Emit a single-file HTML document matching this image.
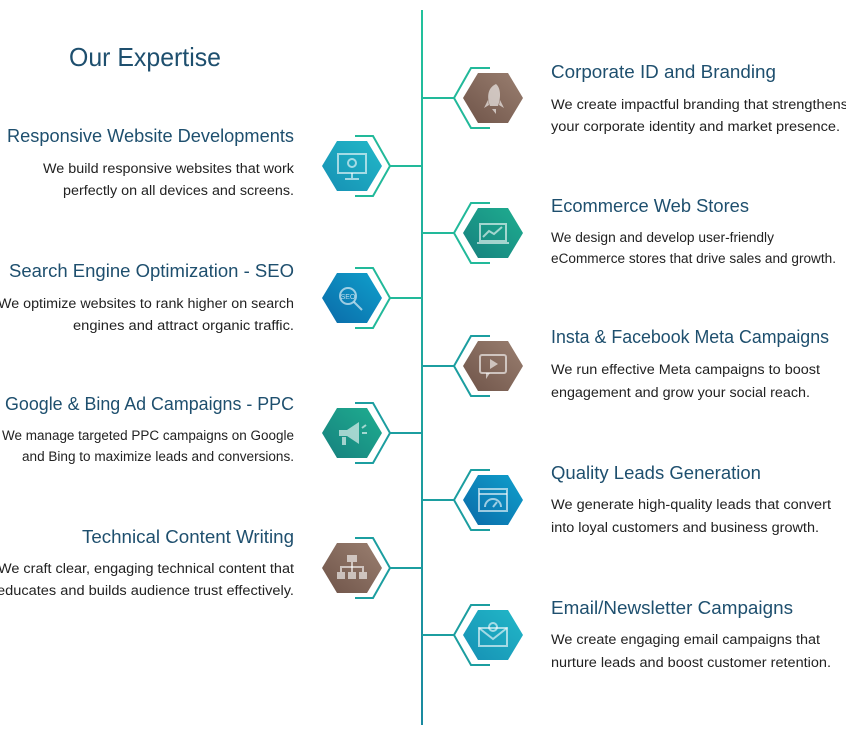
<!DOCTYPE html>
<html><head><meta charset="utf-8"><style>
html,body{margin:0;padding:0;background:#fff;width:846px;height:739px;overflow:hidden}
svg{display:block}
.t{font-family:"Liberation Sans",sans-serif;font-size:18px;fill:#1e4f6e}
.d{font-family:"Liberation Sans",sans-serif;font-size:13.5px;fill:#222}
.ic{fill:none;stroke:#fff;stroke-opacity:.6;stroke-width:2}
.if{fill:#fff;fill-opacity:.6}
</style></head><body>
<svg width="846" height="739" viewBox="0 0 846 739" xmlns="http://www.w3.org/2000/svg">
<defs>
<linearGradient id="vl" gradientUnits="userSpaceOnUse" x1="0" y1="10" x2="0" y2="725"><stop offset="0" stop-color="#22c29c"/><stop offset="1" stop-color="#1a8aa0"/></linearGradient>
<linearGradient id="br" x1="0" y1="1" x2="1" y2="0"><stop offset="0" stop-color="#6f5449"/><stop offset="1" stop-color="#9a7f70"/></linearGradient>
<linearGradient id="tb" x1="0" y1="1" x2="1" y2="0"><stop offset="0" stop-color="#1690b4"/><stop offset="1" stop-color="#22b8c8"/></linearGradient>
<linearGradient id="bl" x1="0" y1="1" x2="1" y2="0"><stop offset="0" stop-color="#0a6aa8"/><stop offset="1" stop-color="#10a0cc"/></linearGradient>
<linearGradient id="gr" x1="0" y1="1" x2="1" y2="0"><stop offset="0" stop-color="#16807e"/><stop offset="1" stop-color="#1fae90"/></linearGradient>
</defs>
<text x="69" y="66" font-family="Liberation Sans,sans-serif" font-size="26" fill="#1e4f6e" textLength="152" lengthAdjust="spacingAndGlyphs">Our Expertise</text>
<rect x="421" y="10" width="2" height="715" fill="url(#vl)"/>

<g stroke="#22b99a" stroke-width="2" fill="none">
<polyline points="490,68 471,68 454,98 471,128 490,128"/><line x1="422" y1="98" x2="454" y2="98"/>
<polyline points="490,203 471,203 454,233 471,263 490,263"/><line x1="422" y1="233" x2="454" y2="233"/>
</g>
<g stroke="#1c9ea0" stroke-width="2" fill="none">
<polyline points="490,336 471,336 454,366 471,396 490,396"/><line x1="422" y1="366" x2="454" y2="366"/>
<polyline points="490,470 471,470 454,500 471,530 490,530"/><line x1="422" y1="500" x2="454" y2="500"/>
<polyline points="490,605 471,605 454,635 471,665 490,665"/><line x1="422" y1="635" x2="454" y2="635"/>
</g>
<polygon points="463,98 478,73 508,73 523,98 508,123 478,123" fill="url(#br)"/>
<polygon points="463,233 478,208 508,208 523,233 508,258 478,258" fill="url(#gr)"/>
<polygon points="463,366 478,341 508,341 523,366 508,391 478,391" fill="url(#br)"/>
<polygon points="463,500 478,475 508,475 523,500 508,525 478,525" fill="url(#bl)"/>
<polygon points="463,635 478,610 508,610 523,635 508,660 478,660" fill="url(#tb)"/>
<path class="if" d="M496,84 C501,88 501,98 498,106 L490,106 C487,98 487,88 496,84Z M488,100 L484,108 L489,105Z M500,100 L504,108 L499,105Z M492,109 L496,114 L496,109Z"/>
<rect class="ic" x="480" y="224" width="26" height="17"/><polyline class="ic" points="483,237 489,231 494,234 502,227"/><line class="ic" x1="477" y1="243" x2="509" y2="243"/>
<rect class="ic" x="480" y="355" width="26" height="18" rx="2"/><polygon class="if" points="490,359 498,364 490,369"/><polygon class="if" points="486,373 490,373 486,379"/>
<rect class="ic" x="479" y="489" width="28" height="22"/><line class="ic" x1="479" y1="494" x2="507" y2="494"/><path class="ic" d="M485,507 A8,8 0 0 1 501,507"/><line class="ic" x1="493" y1="507" x2="497" y2="502"/>
<rect class="ic" x="479" y="628" width="28" height="18"/><polyline class="ic" points="479,628 493,639 507,628"/><circle class="ic" cx="493" cy="627" r="4"/>

<text class="t" x="551" y="78" textLength="225" lengthAdjust="spacingAndGlyphs">Corporate ID and Branding</text>
<text class="d" x="551" y="109" textLength="297" lengthAdjust="spacingAndGlyphs">We create impactful branding that strengthens</text>
<text class="d" x="551" y="131" textLength="289" lengthAdjust="spacingAndGlyphs">your corporate identity and market presence.</text>
<text class="t" x="551" y="212" textLength="198" lengthAdjust="spacingAndGlyphs">Ecommerce Web Stores</text>
<text class="d" x="551" y="242" textLength="223" lengthAdjust="spacingAndGlyphs">We design and develop user-friendly</text>
<text class="d" x="551" y="263" textLength="285" lengthAdjust="spacingAndGlyphs">eCommerce stores that drive sales and growth.</text>
<text class="t" x="551" y="343" textLength="278" lengthAdjust="spacingAndGlyphs">Insta &amp; Facebook Meta Campaigns</text>
<text class="d" x="551" y="374" textLength="269" lengthAdjust="spacingAndGlyphs">We run effective Meta campaigns to boost</text>
<text class="d" x="551" y="397" textLength="259" lengthAdjust="spacingAndGlyphs">engagement and grow your social reach.</text>
<text class="t" x="551" y="479" textLength="210" lengthAdjust="spacingAndGlyphs">Quality Leads Generation</text>
<text class="d" x="551" y="509" textLength="280" lengthAdjust="spacingAndGlyphs">We generate high-quality leads that convert</text>
<text class="d" x="551" y="532" textLength="268" lengthAdjust="spacingAndGlyphs">into loyal customers and business growth.</text>
<text class="t" x="551" y="614" textLength="242" lengthAdjust="spacingAndGlyphs">Email/Newsletter Campaigns</text>
<text class="d" x="551" y="644" textLength="269" lengthAdjust="spacingAndGlyphs">We create engaging email campaigns that</text>
<text class="d" x="551" y="667" textLength="280" lengthAdjust="spacingAndGlyphs">nurture leads and boost customer retention.</text>

<g stroke="#22b99a" stroke-width="2" fill="none">
<polyline points="355,136 373,136 390,166 373,196 355,196"/><line x1="390" y1="166" x2="422" y2="166"/>
<polyline points="355,268 373,268 390,298 373,328 355,328"/><line x1="390" y1="298" x2="422" y2="298"/>
</g>
<g stroke="#1c9ea0" stroke-width="2" fill="none">
<polyline points="355,403 373,403 390,433 373,463 355,463"/><line x1="390" y1="433" x2="422" y2="433"/>
<polyline points="355,538 373,538 390,568 373,598 355,598"/><line x1="390" y1="568" x2="422" y2="568"/>
</g>
<polygon points="322,166 337,141 367,141 382,166 367,191 337,191" fill="url(#tb)"/>
<polygon points="322,298 337,273 367,273 382,298 367,323 337,323" fill="url(#bl)"/>
<polygon points="322,433 337,408 367,408 382,433 367,458 337,458" fill="url(#gr)"/>
<polygon points="322,568 337,543 367,543 382,568 367,593 337,593" fill="url(#br)"/>
<rect class="ic" x="338" y="154" width="28" height="19"/><circle class="ic" cx="352" cy="163" r="4"/><line class="ic" x1="352" y1="173" x2="352" y2="178"/><line class="ic" x1="345" y1="179" x2="359" y2="179"/>
<circle class="ic" cx="348" cy="296" r="8"/><line class="ic" x1="354" y1="302" x2="362" y2="310" stroke-width="3"/>
<text x="348" y="299" font-family="Liberation Sans,sans-serif" font-size="7" fill="#fff" fill-opacity=".7" text-anchor="middle">SEO</text>
<polygon class="if" points="339,430 347,430 359,422 359,444 347,436 339,436"/><rect class="if" x="342" y="437" width="4" height="8"/><line class="ic" x1="362" y1="428" x2="366" y2="425"/><line class="ic" x1="362" y1="433" x2="367" y2="433"/>
<rect class="if" x="347" y="555" width="10" height="7"/><rect class="if" x="337" y="572" width="8" height="7"/><rect class="if" x="348" y="572" width="8" height="7"/><rect class="if" x="359" y="572" width="8" height="7"/><polyline class="ic" points="341,572 341,567 363,567 363,572"/><line class="ic" x1="352" y1="562" x2="352" y2="572"/>

<text class="t" x="294" y="142" text-anchor="end" textLength="287" lengthAdjust="spacingAndGlyphs">Responsive Website Developments</text>
<text class="d" x="294" y="173" text-anchor="end" textLength="251" lengthAdjust="spacingAndGlyphs">We build responsive websites that work</text>
<text class="d" x="294" y="195" text-anchor="end" textLength="231" lengthAdjust="spacingAndGlyphs">perfectly on all devices and screens.</text>
<text class="t" x="294" y="277" text-anchor="end" textLength="285" lengthAdjust="spacingAndGlyphs">Search Engine Optimization - SEO</text>
<text class="d" x="294" y="308" text-anchor="end" textLength="296" lengthAdjust="spacingAndGlyphs">We optimize websites to rank higher on search</text>
<text class="d" x="294" y="330" text-anchor="end" textLength="221" lengthAdjust="spacingAndGlyphs">engines and attract organic traffic.</text>
<text class="t" x="294" y="410" text-anchor="end" textLength="289" lengthAdjust="spacingAndGlyphs">Google &amp; Bing Ad Campaigns - PPC</text>
<text class="d" x="294" y="440" text-anchor="end" textLength="292" lengthAdjust="spacingAndGlyphs">We manage targeted PPC campaigns on Google</text>
<text class="d" x="294" y="461" text-anchor="end" textLength="272" lengthAdjust="spacingAndGlyphs">and Bing to maximize leads and conversions.</text>
<text class="t" x="294" y="543" text-anchor="end" textLength="212" lengthAdjust="spacingAndGlyphs">Technical Content Writing</text>
<text class="d" x="294" y="573" text-anchor="end" textLength="296" lengthAdjust="spacingAndGlyphs">We craft clear, engaging technical content that</text>
<text class="d" x="294" y="595" text-anchor="end" textLength="297" lengthAdjust="spacingAndGlyphs">educates and builds audience trust effectively.</text>
</svg>
</body></html>
